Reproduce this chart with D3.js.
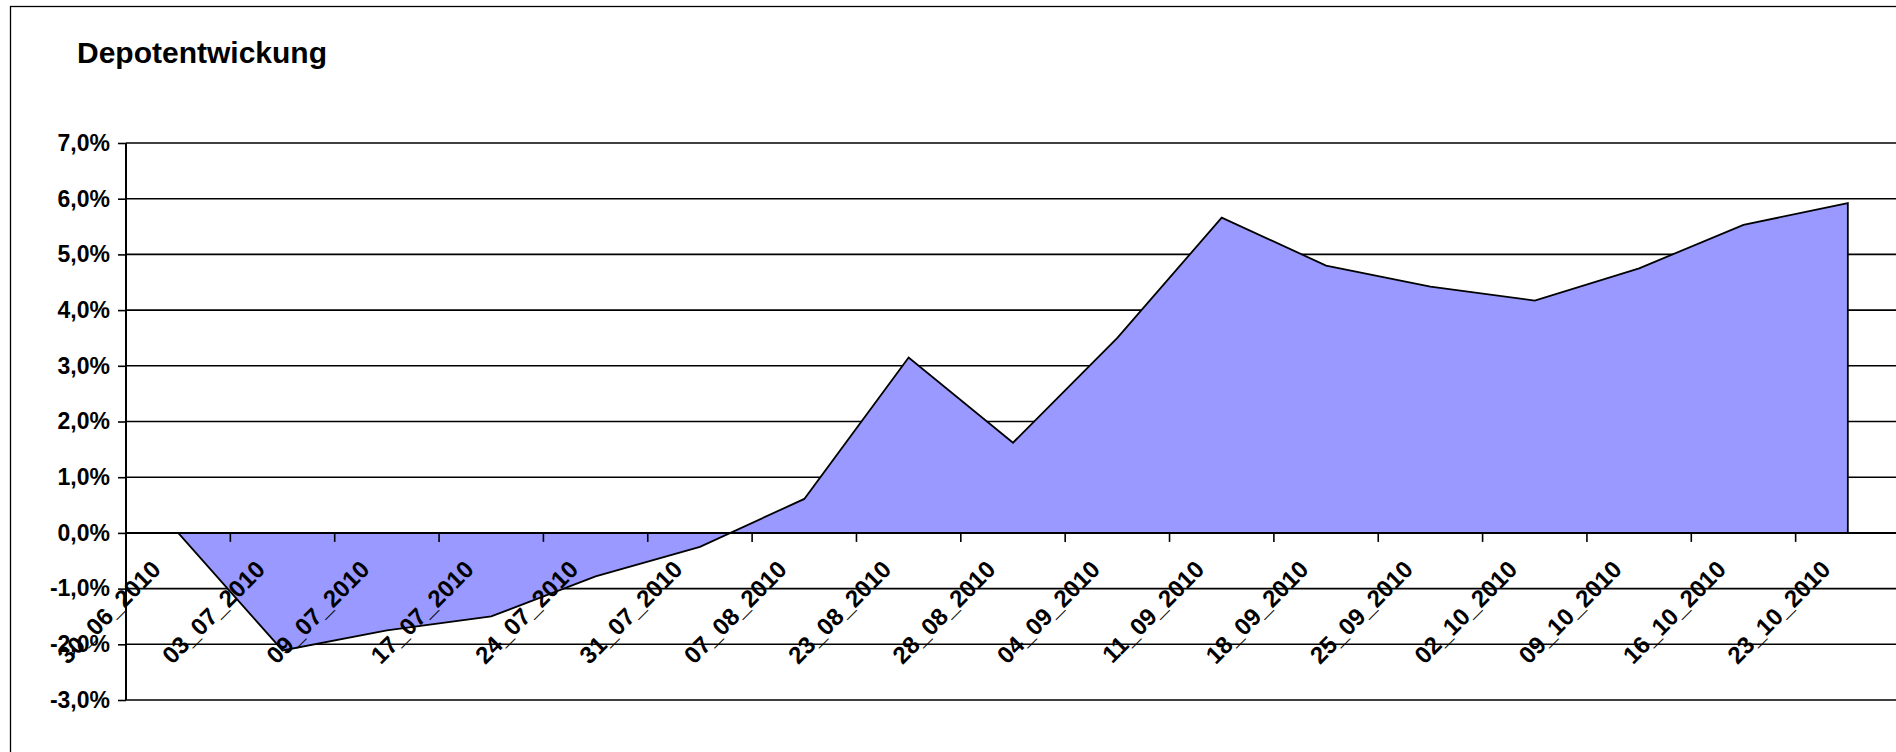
<!DOCTYPE html>
<html>
<head>
<meta charset="utf-8">
<script src="https://cdn.jsdelivr.net/npm/d3@7"></script>
<style>
  html, body { margin: 0; padding: 0; background: #fff; overflow: hidden; }
  svg { display: block; font-family: "Liberation Sans", Arial, sans-serif; }
</style>
</head>
<body>
<svg id="chart" width="1896" height="752"></svg>
<script>
const categories = ["30_06_2010","03_07_2010","09_07_2010","17_07_2010","24_07_2010","31_07_2010","07_08_2010","23_08_2010","28_08_2010","04_09_2010","11_09_2010","18_09_2010","25_09_2010","02_10_2010","09_10_2010","16_10_2010","23_10_2010"];
const values = [0.00, -2.11, -1.75, -1.50, -0.78, -0.25, 0.61, 3.15, 1.62, 3.50, 5.66, 4.80, 4.42, 4.17, 4.75, 5.53, 5.92];
const yTicks = [-3, -2, -1, 0, 1, 2, 3, 4, 5, 6, 7];
const title = "Depotentwickung";

const svg = d3.select("#chart");
const W = 1896, H = 752;
const plot = { left: 126, right: 1900, top: 143, bottom: 700 };

const de = d3.formatLocale({ decimal: ",", thousands: ".", grouping: [3], currency: ["", " €"], minus: "-" });
const fmt = de.format(".1f");

// outer chart border
svg.append("rect")
  .attr("x", 10.5).attr("y", 6.5)
  .attr("width", W + 20).attr("height", H + 20)
  .attr("fill", "none").attr("stroke", "#000").attr("stroke-width", 1.3);

// title
svg.append("text")
  .attr("x", 77).attr("y", 63)
  .attr("font-size", 30).attr("font-weight", "bold")
  .attr("fill", "#000")
  .text(title);

const x = d3.scaleBand().domain(categories).range([plot.left, plot.right]).padding(0);
const y = d3.scaleLinear().domain([-3, 7]).range([plot.bottom, plot.top]);
const cx = d => x(d) + x.bandwidth() / 2;

// gridlines
svg.append("g").selectAll("line").data(yTicks).join("line")
  .attr("x1", plot.left).attr("x2", W + 10)
  .attr("y1", d => y(d)).attr("y2", d => y(d))
  .attr("stroke", "#000").attr("stroke-width", 1.6);

// area
const data = categories.map((c, i) => ({ c, v: values[i] }));
const area = d3.area()
  .x(d => cx(d.c))
  .y0(y(0))
  .y1(d => y(d.v));
svg.append("path")
  .datum(data)
  .attr("d", d => area(d) + "Z")
  .attr("fill", "#9999FF")
  .attr("stroke", "#000")
  .attr("stroke-width", 1.8)
  .attr("stroke-linejoin", "miter");

// y axis
const yAxis = d3.axisLeft(y)
  .tickValues(yTicks)
  .tickSize(8)
  .tickPadding(8)
  .tickFormat(d => fmt(d) + "%");
const gy = svg.append("g").attr("transform", `translate(${plot.left},0)`).call(yAxis);
gy.select(".domain").remove();
gy.selectAll(".tick line").attr("stroke", "#000").attr("stroke-width", 1.6);
gy.selectAll(".tick text")
  .attr("font-size", 23).attr("font-weight", "bold")
  .attr("font-family", "Liberation Sans, Arial, sans-serif")
  .attr("fill", "#000");
svg.append("line")
  .attr("x1", plot.left).attr("x2", plot.left)
  .attr("y1", plot.top).attr("y2", plot.bottom)
  .attr("stroke", "#000").attr("stroke-width", 2);

// x axis line at 0 and tick marks at category boundaries
svg.append("line")
  .attr("x1", plot.left).attr("x2", W + 10)
  .attr("y1", y(0)).attr("y2", y(0))
  .attr("stroke", "#000").attr("stroke-width", 2);
svg.append("g").selectAll("line").data(categories.slice(1)).join("line")
  .attr("x1", d => x(d)).attr("x2", d => x(d))
  .attr("y1", y(0)).attr("y2", y(0) + 9)
  .attr("stroke", "#000").attr("stroke-width", 1.6);

// x labels, rotated 45°
svg.append("g").selectAll("text").data(categories).join("text")
  .attr("transform", d => `translate(${cx(d) - 16},${y(0) + 38}) rotate(-45)`)
  .attr("text-anchor", "end")
  .attr("font-size", 24).attr("font-weight", "bold")
  .attr("fill", "#000")
  .text(d => d);
</script>
</body>
</html>
